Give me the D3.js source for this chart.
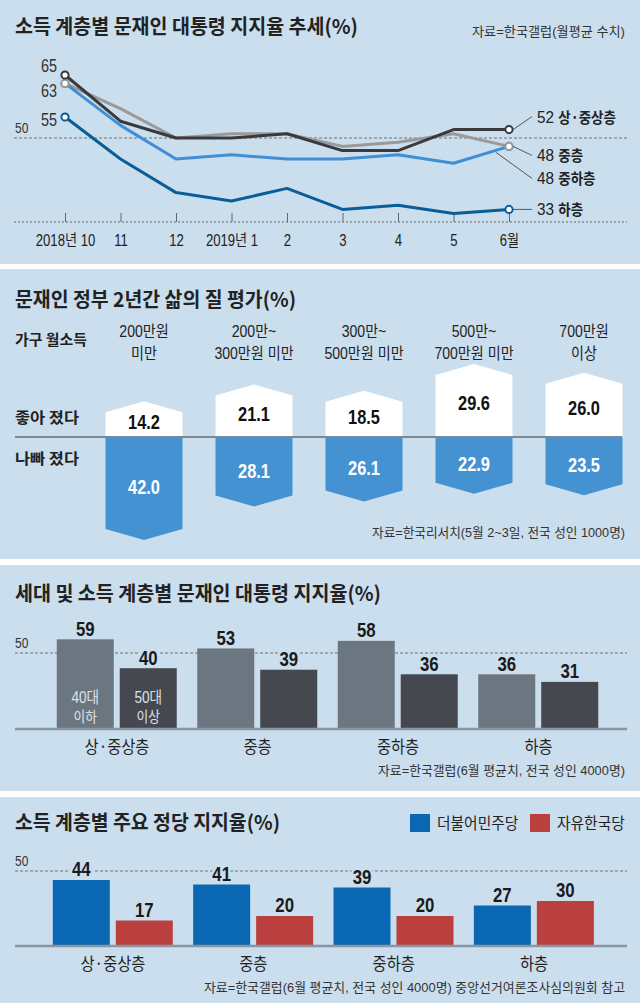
<!DOCTYPE html>
<html><head><meta charset="utf-8">
<script src="https://cdn.jsdelivr.net/npm/d3@7"></script>
<style>body{margin:0;background:#fff}svg{display:block}</style>
</head><body><div id="chart"></div>
<script>
// chart 1 : monthly approval by income class
var months = ["2018년 10","11","12","2019년 1","2","3","4","5","6월"];
var upperMid = [65,54,50,50,51,47,47,52,52];   // 상·중상층
var middle   = [63,57,50,51,51,48,49,51,48];   // 중층
var lowerMid = [63,53,45,46,45,45,46,44,48];   // 중하층
var lower    = [55,45,37,35,38,33,34,32,33];   // 하층

// chart 2 : quality of life by household income
var incomes = [["200만원","미만"],["200만~","300만원 미만"],["300만~","500만원 미만"],["500만~","700만원 미만"],["700만원","이상"]];
var better = [14.2,21.1,18.5,29.6,26.0];
var worse  = [42.0,28.1,26.1,22.9,23.5];

// chart 3 : approval by generation and class
var classes = ["상·중상층","중층","중하층","하층"];
var gens = ["40대 이하","50대 이상"];
var young = [59,53,58,36];
var old   = [40,39,36,31];

// chart 4 : party support by class
var parties = ["더불어민주당","자유한국당"];
var dem = [44,41,39,27];
var lkp = [17,20,20,30];

var W=640, H=1003, bg="#cbdeee";
var NUM="'Liberation Sans','Noto Sans CJK KR',sans-serif";
var KR="'Noto Sans CJK KR',sans-serif";

var svg=d3.select("#chart").append("svg").attr("width",W).attr("height",H);
svg.append("rect").attr("width",W).attr("height",H).attr("fill","#fff");
[[0,264],[269,559],[565,791],[797,1003]].forEach(function(p){
  svg.append("rect").attr("x",0).attr("y",p[0]).attr("width",W).attr("height",p[1]-p[0]).attr("fill",bg);
});

// squeeze text horizontally (the paper's font is condensed)
function squeeze(sel,k){
  sel.each(function(){
    var L=this.getComputedTextLength();
    d3.select(this).attr("textLength",L*k).attr("lengthAdjust","spacingAndGlyphs");
  });
}
function label(g,x,y,s,size,o){
  o=o||{};
  var t=g.append("text").attr("x",x).attr("y",y).attr("dy","0.35em")
    .attr("font-size",size).attr("font-family",o.font||NUM)
    .attr("font-weight",o.bold?"bold":"normal")
    .attr("text-anchor",o.anchor||"start").attr("fill",o.fill||"#222").text(s);
  if(o.w) t.attr("textLength",o.w).attr("lengthAdjust","spacingAndGlyphs");
  else if(o.k) squeeze(t,o.k);
  return t;
}

// ---------- chart 1
var g1=svg.append("g");
label(g1,15,27,"소득 계층별 문재인 대통령 지지율 추세(%)",20,{font:KR,bold:true,w:343});
label(g1,625,31,"자료=한국갤럽(월평균 수치)",13,{anchor:"end",fill:"#333",w:153});

var x1=d3.scalePoint().domain(months).range([65,509]);
var y1=d3.scaleLinear().domain([30,50]).range([222,138]);

g1.append("line").attr("x1",14).attr("x2",627).attr("y1",y1(50)).attr("y2",y1(50))
  .attr("stroke","#555").attr("stroke-dasharray","3,2").attr("stroke-width",0.8);
label(g1,15,128,"50",15,{fill:"#333",k:0.8});

var ax1=g1.append("g").attr("transform","translate(0,"+y1(30)+")")
  .call(d3.axisBottom(x1).tickSizeInner(-9).tickSizeOuter(0).tickPadding(18));
ax1.select(".domain").remove();
ax1.selectAll(".tick line").attr("stroke","#666");
ax1.selectAll(".tick text").attr("dy","0.35em").attr("font-family",NUM).attr("font-size",16).attr("fill","#222")
  .call(squeeze,0.82);
g1.append("line").attr("x1",14).attr("x2",627).attr("y1",y1(30)).attr("y2",y1(30))
  .attr("stroke","#666").attr("stroke-dasharray","2,2").attr("stroke-width",1.2);

var series=[
  {name:"하층",v:lower,c:"#0a5e98",ldy:3,rdy:0},
  {name:"중층",v:middle,c:"#9a9a9a",ldy:7,rdy:9},
  {name:"중하층",v:lowerMid,c:"#3f8fd6",ldy:null,rdy:32},
  {name:"상·중상층",v:upperMid,c:"#3a3a3c",ldy:-9,rdy:-13}
];
var line=d3.line().x(function(d,i){return x1(months[i]);}).y(function(d){return y1(d);});
series.forEach(function(s){
  g1.append("path").datum(s.v).attr("d",line).attr("fill","none")
    .attr("stroke",s.c).attr("stroke-width",3).attr("stroke-linejoin","round");
});
// end markers (light blue first so grey ring sits on top)
[series[2],series[0],series[1],series[3]].forEach(function(s){
  var n=s.v.length-1;
  [0,n].forEach(function(i){
    g1.append("circle").attr("cx",x1(months[i])).attr("cy",y1(s.v[i])).attr("r",3.6)
      .attr("fill","#fff").attr("stroke",s.c).attr("stroke-width",2);
  });
});
var xe=x1(months[months.length-1]);
series.forEach(function(s){
  var n=s.v.length-1, v=s.v[n], yy=y1(v)+s.rdy;
  if(s.ldy!==null) label(g1,57,y1(s.v[0])+s.ldy,s.v[0],18,{anchor:"end",fill:"#333",k:0.8});
  var sx=xe+4, sy=y1(v);
  if(s.name==="중하층"){sx=xe-13; sy=y1(v)+6;}
  g1.append("line").attr("x1",sx).attr("y1",sy).attr("x2",532).attr("y2",yy)
    .attr("stroke","#333").attr("stroke-width",0.8);
  var t=label(g1,537,yy,"",17,{fill:"#222"});
  t.append("tspan").text(v+" ");
  t.append("tspan").attr("font-family",KR).attr("font-weight","bold").attr("font-size",15).text(s.name);
  squeeze(t,0.9);
});

// ---------- chart 2
var g2=svg.append("g");
label(g2,15,300,"문재인 정부 2년간 삶의 질 평가(%)",20,{font:KR,bold:true,w:281});
label(g2,15,340,"가구 월소득",15,{font:KR,bold:true,w:72});
label(g2,15,418,"좋아 졌다",15,{font:KR,bold:true,w:64});
label(g2,15,459,"나빠 졌다",15,{font:KR,bold:true,w:64});

var x2=d3.scaleBand().domain(d3.range(incomes.length)).range([89,639]).paddingInner(0.3).paddingOuter(0.15);
var h2=d3.scaleLinear().domain([0,42]).range([1.5,103]);
var axis2=437, cut=11;
incomes.forEach(function(d,i){
  var cx=x2(i)+x2.bandwidth()/2;
  label(g2,cx,331,d[0],16,{anchor:"middle",fill:"#222",k:0.88});
  label(g2,cx,353,d[1],16,{anchor:"middle",fill:"#222",k:0.88});
});
function hexPath(i,v,dir){
  var a=x2(i), b=a+x2.bandwidth(), c=a+x2.bandwidth()/2, h=h2(v);
  return "M"+a+","+axis2+"L"+a+","+(axis2+dir*(h-cut))+"L"+c+","+(axis2+dir*h)+"L"+b+","+(axis2+dir*(h-cut))+"L"+b+","+axis2+"Z";
}
g2.selectAll(".good").data(better).join("path").attr("d",function(d,i){return hexPath(i,d,-1);}).attr("fill","#fff");
g2.selectAll(".bad").data(worse).join("path").attr("d",function(d,i){return hexPath(i,d,1);}).attr("fill","#4592d2");
g2.append("line").attr("x1",15).attr("x2",622).attr("y1",axis2).attr("y2",axis2).attr("stroke","#7c8995").attr("stroke-width",2);
better.forEach(function(v,i){
  var cx=x2(i)+x2.bandwidth()/2;
  label(g2,cx,axis2-(h2(v)-cut)/2-3,v.toFixed(1),21,{anchor:"middle",bold:true,fill:"#111",k:0.78});
});
worse.forEach(function(v,i){
  var cx=x2(i)+x2.bandwidth()/2;
  label(g2,cx,axis2+(h2(v)-cut)/2+4,v.toFixed(1),21,{anchor:"middle",bold:true,fill:"#fff",k:0.78});
});
label(g2,625,532,"자료=한국리서치(5월 2~3일, 전국 성인 1000명)",13,{anchor:"end",fill:"#333",w:253});

// ---------- grouped bar helper
function groupBars(g,a,b,cols,range,base,top50,src,srcW){
  var x0=d3.scaleBand().domain(classes).range(range);
  var xi=d3.scaleBand().domain([0,1]).range([10,130]).paddingInner(0.095);
  var y=d3.scaleLinear().domain([0,50]).range([base,top50]);
  g.append("line").attr("x1",15).attr("x2",627).attr("y1",y(50)).attr("y2",y(50))
    .attr("stroke","#555").attr("stroke-dasharray","3,2").attr("stroke-width",0.8);
  label(g,15,y(50)-10,"50",15,{fill:"#333",k:0.8});
  [a,b].forEach(function(arr,k){
    g.selectAll(".s"+k).data(arr).join("rect")
      .attr("x",function(d,i){return x0(classes[i])+xi(k);})
      .attr("y",function(d){return y(d);})
      .attr("width",xi.bandwidth()).attr("height",function(d){return base-y(d);})
      .attr("fill",cols[k]);
  });
  [a,b].forEach(function(arr,k){
    arr.forEach(function(d,i){
      label(g,x0(classes[i])+xi(k)+xi.bandwidth()/2,y(d)-11,d,21,{anchor:"middle",bold:true,fill:"#1a1a1a",k:0.8})
        .attr("stroke",bg).attr("stroke-width",6).attr("paint-order","stroke");
    });
  });
  g.append("line").attr("x1",15).attr("x2",627).attr("y1",base).attr("y2",base).attr("stroke","#8996a2").attr("stroke-width",2.5);
  var ax=g.append("g").attr("transform","translate(0,"+base+")")
    .call(d3.axisBottom(x0).tickSize(0).tickPadding(18));
  ax.select(".domain").remove();
  ax.selectAll(".tick text").attr("dy","0.35em").attr("font-family",KR).attr("font-size",17).attr("fill","#222")
    .call(squeeze,0.9);
  label(g,625,base+41,src,13,{anchor:"end",fill:"#333",w:srcW});
  return {x0:x0,xi:xi,y:y};
}

// ---------- chart 3
var g3=svg.append("g");
label(g3,15,594,"세대 및 소득 계층별 문재인 대통령 지지율(%)",20,{font:KR,bold:true,w:366});
var s3=groupBars(g3,young,old,["#6c7680","#45484f"],[46.75,608.75],729,653,
  "자료=한국갤럽(6월 평균치, 전국 성인 4000명)",247);
gens.forEach(function(gn,k){
  var cx=s3.x0(classes[0])+s3.xi(k)+s3.xi.bandwidth()/2;
  var parts=gn.split(" ");
  label(g3,cx,697,parts[0],16,{anchor:"middle",fill:"#dde2e7",k:0.85});
  label(g3,cx,717,parts[1],15,{anchor:"middle",fill:"#dde2e7",font:KR,k:0.85});
});

// ---------- chart 4
var g4=svg.append("g");
label(g4,15,823,"소득 계층별 주요 정당 지지율(%)",20,{font:KR,bold:true,w:265});
var pc=["#0a67b3","#b9403e"];
var lx=[410,530];
parties.forEach(function(p,k){
  g4.append("rect").attr("x",lx[k]).attr("y",814).attr("width",20).attr("height",18).attr("fill",pc[k]);
  label(g4,lx[k]+27,823,p,16,{font:KR,fill:"#222",k:0.92});
});
groupBars(g4,dem,lkp,pc,[42.8,604.2],946,871,
  "자료=한국갤럽(6월 평균치, 전국 성인 4000명) 중앙선거여론조사심의원회 참고",421);
</script>
</body></html>
